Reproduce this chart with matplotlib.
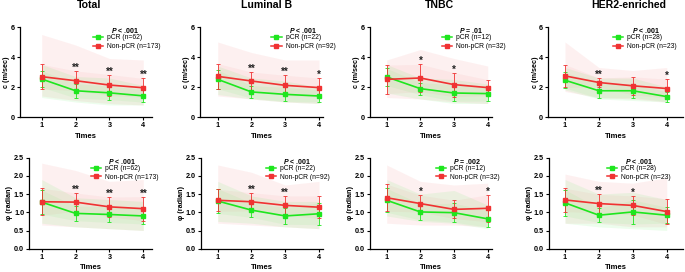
import numpy as np
import matplotlib
matplotlib.use('Agg')
import matplotlib.pyplot as plt
from matplotlib.lines import Line2D

plt.rcParams['font.family'] = ['Liberation Sans', 'DejaVu Sans']
plt.rcParams['font.weight'] = 'bold'
plt.rcParams['mathtext.fontset'] = 'custom'
plt.rcParams['mathtext.it'] = 'Liberation Sans:italic:bold'

times = [1, 2, 3, 4]
titles = ['Total', 'Luminal B', 'TNBC', 'HER2-enriched']
p_values = ['< .001', '< .001', '= .01', '< .001',
            '< .001', '< .001', '= .002', '< .001']
n_pcr = [62, 22, 12, 28]
n_non = [173, 92, 32, 23]

# c (m/sec), top row
c_red = [[2.69, 2.42, 2.13, 1.95], [2.71, 2.40, 2.11, 1.96],
         [2.51, 2.60, 2.16, 1.96], [2.74, 2.30, 2.08, 1.90]]
c_red_sd = [[0.82, 0.65, 0.70, 0.62], [0.85, 0.60, 0.67, 0.64],
            [0.95, 0.91, 0.80, 0.53], [0.76, 0.30, 0.60, 0.62]]
c_green = [[2.53, 1.75, 1.61, 1.41], [2.51, 1.67, 1.51, 1.40],
           [2.67, 1.89, 1.60, 1.56], [2.45, 1.75, 1.75, 1.36]]
c_green_sd = [[0.55, 0.48, 0.45, 0.42], [0.63, 0.42, 0.47, 0.40],
              [0.57, 0.40, 0.55, 0.50], [0.52, 0.50, 0.45, 0.33]]
# spread of the individual patient lines (low / high)
c_red_lo = [[1.4, 1.1, 0.9, 0.8], [1.4, 1.2, 1.0, 0.9],
            [1.3, 1.2, 1.0, 0.9], [1.7, 1.3, 1.2, 1.0]]
c_red_hi = [[5.5, 4.8, 3.9, 3.8], [5.0, 4.3, 3.8, 3.8],
            [3.8, 4.5, 3.9, 3.4], [5.0, 3.3, 3.1, 3.3]]
c_green_lo = [[1.3, 1.0, 0.8, 0.8], [1.5, 1.2, 1.0, 0.9],
              [1.6, 1.2, 0.9, 0.9], [1.8, 1.2, 1.1, 1.0]]
c_green_hi = [[3.5, 2.7, 2.6, 2.1], [3.4, 2.6, 2.4, 2.0],
              [3.5, 2.6, 2.5, 2.2], [3.3, 2.6, 2.6, 2.0]]
c_stars = [['', '**', '**', '**'], ['', '**', '**', '*'],
           ['', '*', '*', ''], ['', '**', '', '*']]

# phi (radian), bottom row
f_red = [[1.29, 1.28, 1.15, 1.10], [1.33, 1.29, 1.19, 1.14],
         [1.40, 1.24, 1.08, 1.11], [1.34, 1.24, 1.19, 1.02]]
f_red_sd = [[0.37, 0.25, 0.27, 0.33], [0.30, 0.25, 0.26, 0.31],
            [0.37, 0.23, 0.25, 0.37], [0.32, 0.25, 0.26, 0.35]]
f_green = [[1.28, 0.97, 0.94, 0.90], [1.31, 1.06, 0.90, 0.96],
           [1.33, 1.01, 0.99, 0.82], [1.26, 0.92, 1.01, 0.92]]
f_green_sd = [[0.33, 0.20, 0.22, 0.22], [0.34, 0.20, 0.23, 0.30],
              [0.33, 0.22, 0.26, 0.23], [0.36, 0.20, 0.33, 0.22]]
f_red_lo = [[0.65, 0.60, 0.55, 0.50], [0.70, 0.65, 0.60, 0.55],
            [0.70, 0.65, 0.65, 0.60], [0.70, 0.70, 0.60, 0.60]]
f_red_hi = [[2.35, 2.15, 1.85, 1.90], [2.30, 2.10, 1.75, 1.85],
            [2.30, 1.85, 1.75, 1.80], [2.05, 1.85, 1.80, 1.95]]
f_green_lo = [[0.70, 0.60, 0.55, 0.50], [0.75, 0.70, 0.60, 0.55],
              [0.90, 0.75, 0.70, 0.55], [0.70, 0.60, 0.55, 0.50]]
f_green_hi = [[1.90, 1.40, 1.35, 1.30], [1.85, 1.45, 1.30, 1.30],
              [1.90, 1.50, 1.60, 1.20], [1.90, 1.50, 1.55, 1.35]]
f_stars = [['', '**', '**', '**'], ['', '**', '**', ''],
           ['', '*', '', '*'], ['', '**', '*', '']]

RED = '#f03232'
GREEN = '#1ee61e'

W, H = 685, 272
fig = plt.figure(figsize=(W / 100, H / 100), dpi=100)

# pixel layout: left, right, tick1 px, tick4 px
top_cols = [(20, 152, 41.7, 143.3), (200, 323, 217.7, 319),
            (370, 492, 386.7, 487.7), (548.3, 683, 565, 666.7)]
bot_cols = [(29.3, 152, 41.7, 143.3), (201, 323, 217.7, 319),
            (370, 492, 386.7, 487.7), (549, 683, 565, 666.7)]
title_x = [89, 267, 439, 629]
leg_x = [0.58, 0.61, 0.62, 0.51]


def panel(col, row):
    if row == 0:
        L, R, T1, T4 = top_cols[col]
        ytop, ybot = 27, 117
        red, rsd, grn, gsd = c_red[col], c_red_sd[col], c_green[col], c_green_sd[col]
        rlo, rhi, glo, ghi = c_red_lo[col], c_red_hi[col], c_green_lo[col], c_green_hi[col]
        stars = c_stars[col]
        ymax, yt, ylab = 6, [0, 2, 4, 6], 'c (m/sec)'
        yfmt = '%d'
    else:
        L, R, T1, T4 = bot_cols[col]
        ytop, ybot = 157.7, 248.7
        red, rsd, grn, gsd = f_red[col], f_red_sd[col], f_green[col], f_green_sd[col]
        rlo, rhi, glo, ghi = f_red_lo[col], f_red_hi[col], f_green_lo[col], f_green_hi[col]
        stars = f_stars[col]
        ymax, yt, ylab = 2.5, [0, 0.5, 1.0, 1.5, 2.0, 2.5], 'φ (radian)'
        yfmt = '%.1f'
    ax = fig.add_axes([L / W, 1 - ybot / H, (R - L) / W, (ybot - ytop) / H])
    s = (T4 - T1) / 3
    ax.set_xlim(1 - (T1 - L) / s, 4 + (R - T4) / s)
    ax.set_ylim(0, ymax)

    # haze of individual patient lines: full spread + denser core (mean +/- sd)
    r_core_lo = [m - d for m, d in zip(red, rsd)]
    r_core_hi = [m + d for m, d in zip(red, rsd)]
    g_core_lo = [m - d for m, d in zip(grn, gsd)]
    g_core_hi = [m + d for m, d in zip(grn, gsd)]
    ax.fill_between(times, rlo, rhi, color=RED, alpha=0.07, lw=0)
    ax.fill_between(times, r_core_lo, r_core_hi, color=RED, alpha=0.05, lw=0)
    ax.fill_between(times, glo, ghi, color=GREEN, alpha=0.08, lw=0)
    ax.fill_between(times, g_core_lo, g_core_hi, color=GREEN, alpha=0.06, lw=0)

    for m, sd, c in [(grn, gsd, GREEN), (red, rsd, RED)]:
        ax.errorbar(times, m, yerr=sd, color=c, lw=1.2, marker='s', ms=2.4,
                    elinewidth=0.6, capsize=1.5, capthick=0.6, zorder=3)

    for t, st, r, rs, g, gs in zip(times, stars, red, rsd, grn, gsd):
        if st:
            ytxt = max(r + rs, g + gs) - ymax * 0.02
            ax.text(t, ytxt, st, ha='center', va='bottom', fontsize=7,
                    fontweight='bold', color='#222222')

    for sp in ['top', 'right']:
        ax.spines[sp].set_visible(False)
    for sp in ['left', 'bottom']:
        ax.spines[sp].set_linewidth(0.9)
    ax.set_xticks(times)
    ax.set_yticks(yt)
    ax.set_yticklabels([yfmt % v for v in yt])
    ax.tick_params(labelsize=5.2, length=2.2, width=0.8, pad=1.5)
    ax.set_xlabel('Times', fontsize=5.5, fontweight='bold', labelpad=2.5)
    ax.set_ylabel(ylab, fontsize=5.2, fontweight='bold', labelpad=0.3)

    lx = leg_x[col] if row == 0 else leg_x[col] - 0.05
    ax.text(lx + 0.11, 0.96, '$P$ ' + p_values[row * 4 + col],
            transform=ax.transAxes, fontsize=5, fontweight='bold', va='center')
    handles = [Line2D([], [], color=GREEN, marker='s', ms=2.2, lw=1.1),
               Line2D([], [], color=RED, marker='s', ms=2.2, lw=1.1)]
    ax.legend(handles, ['pCR (n=%d)' % n_pcr[col], 'Non-pCR (n=%d)' % n_non[col]],
              loc='upper left', bbox_to_anchor=(lx - 0.03, 0.92), frameon=False,
              handlelength=1.5, handletextpad=0.6, labelspacing=0.25,
              borderpad=0, borderaxespad=0,
              prop={'size': 4.9, 'weight': 'normal'})
    return ax


for col in range(4):
    panel(col, 0)
    panel(col, 1)
    fig.text(title_x[col] / W, 1 - 5.5 / H, titles[col], ha='center', va='center',
             fontsize=7.6, fontweight='bold')

fig.savefig('out.png', dpi=100)
